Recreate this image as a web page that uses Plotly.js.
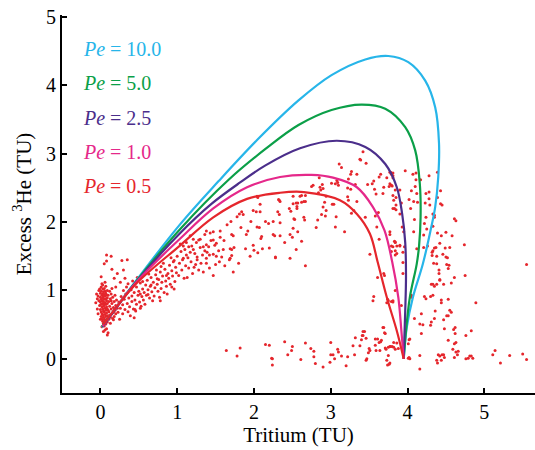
<!DOCTYPE html>
<html><head><meta charset="utf-8">
<script src="https://cdn.plot.ly/plotly-3.0.1.min.js"></script>
<style>html,body{margin:0;padding:0;background:#fff}#chart{width:535px;height:450px}</style>
</head><body><div id="chart"></div>
<script>
// ---- model curves (Tritium, Excess 3He) ----
const pe10X = [0.02,0.45,1.04,1.54,2.04,2.58,3.01,3.45,3.75,4.01,4.23,4.36,4.41,4.40,4.36,4.30,4.20,4.07,3.99,3.95];
const pe10Y = [0.46,1.12,1.97,2.60,3.20,3.78,4.15,4.38,4.43,4.34,4.07,3.68,3.15,2.66,2.22,1.88,1.39,0.90,0.46,0.0];
const pe5X = [0.02,0.45,1.04,1.67,2.15,2.58,3.01,3.40,3.71,3.97,4.10,4.16,4.17,4.15,4.12,4.03,3.98,3.95];
const pe5Y = [0.47,1.11,1.90,2.62,3.07,3.42,3.64,3.72,3.66,3.39,3.05,2.56,2.07,1.65,1.39,0.90,0.41,0.0];
const pe25X = [0.03,0.45,1.04,1.45,1.82,2.15,2.60,3.08,3.45,3.71,3.86,3.93,3.97,3.98,3.97,3.96,3.95];
const pe25Y = [0.47,1.10,1.84,2.27,2.58,2.83,3.08,3.19,3.10,2.85,2.51,2.12,1.70,1.20,0.70,0.35,0.0];
const pe1X = [0.03,0.45,1.04,1.47,1.91,2.34,2.75,3.03,3.34,3.55,3.70,3.80,3.88,3.92,3.95];
const pe1Y = [0.48,1.10,1.76,2.20,2.51,2.66,2.69,2.65,2.51,2.22,1.88,1.42,0.90,0.41,0.0];
const pe05X = [0.04,0.45,1.04,1.47,1.91,2.34,2.65,3.12,3.34,3.51,3.61,3.73,3.86,3.95];
const pe05Y = [0.50,1.08,1.66,2.07,2.34,2.43,2.44,2.32,2.12,1.83,1.42,0.90,0.41,0.0];
const peLabels = ["10.0","5.0","2.5","1.0","0.5"];
const peColors = ["#27b5e9","#0b9f48","#4b2e8b","#e5288a","#e5262c"];

// ---- observations [tritium, excess 3He] ----
const dotsCluster = [
[-0.05,0.95],[-0.04,0.88],[-0.03,0.92],[-0.02,1.00],[-0.02,0.85],[-0.01,0.78],[0.00,0.96],[0.00,0.90],[0.00,0.83],[0.00,0.72],
[0.01,1.05],[0.01,0.99],[0.01,0.87],[0.01,0.80],[0.01,0.69],[0.01,0.62],[0.02,0.93],[0.02,0.85],[0.02,0.76],[0.02,0.66],
[0.02,0.58],[0.03,1.08],[0.03,1.02],[0.03,0.95],[0.03,0.89],[0.03,0.81],[0.03,0.73],[0.03,0.64],[0.03,0.55],[0.04,0.98],
[0.04,0.91],[0.04,0.84],[0.04,0.77],[0.04,0.70],[0.04,0.61],[0.04,0.52],[0.05,1.03],[0.05,0.94],[0.05,0.87],[0.05,0.79],
[0.05,0.68],[0.05,0.58],[0.05,0.48],[0.06,0.99],[0.06,0.92],[0.06,0.82],[0.06,0.74],[0.06,0.65],[0.06,0.55],[0.07,1.06],
[0.07,0.96],[0.07,0.88],[0.07,0.80],[0.07,0.71],[0.07,0.62],[0.07,0.51],[0.08,0.93],[0.08,0.85],[0.08,0.76],[0.08,0.67],
[0.08,0.58],[0.08,0.44],[0.09,1.00],[0.09,0.89],[0.09,0.81],[0.09,0.73],[0.09,0.63],[0.09,0.54],
[0.10,0.93],[0.10,0.71],[0.11,0.84],[0.11,0.58],[0.12,0.99],[0.12,0.77],[0.12,0.64],[0.13,0.88],[0.13,0.52],[0.14,0.73],
[0.14,0.95],[0.15,0.66],[0.15,0.81],[0.16,0.59],[0.16,0.90],[0.17,0.75],[0.17,0.68],[0.18,0.84],[0.18,0.62],[0.19,0.71],
[0.20,0.78],[0.20,0.66],[0.21,0.86],[0.22,0.74],[0.13,0.61],[0.11,0.69],[0.15,1.03],[0.19,0.93],[0.14,0.85],[0.17,0.57],
[-0.06,0.82],[-0.04,0.73],[-0.03,0.66],[0.00,0.58],[0.02,0.47],[0.06,0.42],[0.09,0.35],[0.04,0.40],[-0.01,1.02],[0.02,1.10],
[0.06,1.12],[0.10,0.38],
[0.08,1.52],[0.14,1.50],[0.05,1.39],[0.08,1.43],[0.15,1.31],[0.28,1.44],[0.01,1.20],[0.18,1.18],[0.22,1.25],[0.30,1.30],
[0.35,1.45],[0.20,1.05],[0.26,1.12],[0.32,1.18]
];
const dotsBandLow = [
[0.23,0.68],[0.24,0.83],[0.26,0.74],[0.27,0.91],[0.29,0.66],[0.29,0.79],[0.31,0.87],[0.32,0.72],[0.33,0.95],[0.35,0.81],
[0.36,0.69],[0.37,0.89],[0.38,0.76],[0.40,1.01],[0.41,0.84],[0.41,0.92],[0.43,0.73],[0.44,0.97],[0.45,0.86],[0.47,1.05],
[0.47,0.80],[0.49,0.93],[0.50,0.99],[0.51,0.83],[0.52,1.11],[0.54,0.91],[0.55,1.02],[0.56,0.86],[0.57,0.97],[0.59,1.08],
[0.60,0.93],[0.61,1.15],[0.62,1.01],[0.64,0.89],[0.65,1.06],[0.66,1.19],[0.67,0.98],[0.69,1.12],[0.70,0.92],[0.71,1.04],
[0.72,1.23],[0.74,1.09],[0.75,0.99],[0.76,1.16],[0.78,1.27],[0.79,1.03],[0.80,1.12],[0.81,1.21],[0.83,0.97],[0.84,1.31],
[0.85,1.14],[0.86,1.06],[0.88,1.25],[0.89,1.18],[0.90,1.37],[0.91,1.09],[0.93,1.29],[0.94,1.21],[0.95,1.42],[0.97,1.13],
[0.98,1.34],[0.99,1.26],[0.34,1.05],[0.39,0.63],[0.46,0.70],[0.53,0.77],[0.58,0.80],[0.63,1.24],[0.68,0.85],[0.73,1.30],
[0.77,0.90],[0.82,1.40],[0.87,0.95],[0.92,1.48],[0.96,1.02],[0.42,1.14],[0.48,1.19],[0.57,1.27],[0.44,0.60],[0.25,0.58],
[0.30,1.00],[0.36,1.10],[0.52,0.95],[0.62,0.94],[0.74,1.17],[0.86,1.22],[0.55,1.13],[0.66,1.08],[0.79,1.35],[0.93,1.05],
[0.45,0.72],[0.52,0.74],[0.78,0.85]
];
const dotsBandMid = [
[2.04,2.38],[2.05,2.36],[2.08,2.26],[2.08,2.15],[2.32,2.33],[2.34,2.30],[2.31,2.15],[2.33,2.11],[2.46,2.20],[2.48,2.16],
[2.51,2.27],[2.55,2.28],[2.53,2.04],[2.34,1.99],[2.25,2.01],[1.99,2.17],[2.03,2.15],[1.81,2.12],[1.84,2.15],[1.78,2.08],
[1.86,2.11],[1.96,2.01],[2.15,2.01],[2.19,1.98],[2.04,1.93],[2.07,1.92],[1.92,1.87],[1.83,1.92],[1.65,1.96],[1.70,2.01],
[1.56,1.87],[1.71,1.82],[1.73,1.80],[1.90,1.82],[2.09,1.76],[2.10,1.79],[2.25,1.82],[2.27,1.80],[2.34,1.80],[2.47,1.82],
[2.50,1.78],[1.47,1.86],[1.43,1.84],[1.38,1.87],[1.36,1.82],[1.30,1.75],[1.28,1.74],[1.21,1.75],[1.25,1.70],[1.17,1.80],
[1.12,1.70],[1.04,1.68],[1.08,1.65],[1.19,1.65],[1.21,1.60],[1.30,1.63],[1.34,1.64],[1.38,1.67],[1.41,1.64],[1.44,1.73],
[1.47,1.74],[1.49,1.66],[1.51,1.69],[1.36,1.58],[1.39,1.56],[1.42,1.52],[1.47,1.53],[1.51,1.50],[1.54,1.58],[1.60,1.60],
[1.61,1.73],[1.56,1.78],[1.69,1.61],[1.71,1.60],[1.74,1.63],[1.12,1.52],[1.17,1.56],[1.23,1.54],[1.08,1.47],[1.26,1.49],
[1.38,1.47],[1.69,1.47],[1.58,1.49],[1.99,1.66],[2.11,1.61],[2.00,1.59],[2.28,1.48],[2.47,1.47],[1.71,1.51],
[1.02,1.22],[1.06,1.30],[1.09,1.18],[1.13,1.19],[1.15,1.33],[1.20,1.25],[1.24,1.38],[1.28,1.30],[1.34,1.27],[1.38,1.40],
[1.42,1.33],[1.47,1.22],[1.50,1.38],[1.55,1.42],[1.62,1.36],[1.73,1.27],[1.68,1.45],[1.80,1.40],[1.89,1.61],[1.95,1.50],
[2.05,1.55],[2.20,1.62],[2.40,1.70],[2.67,1.36],[2.55,1.60],[2.62,1.72],[1.03,1.40],[1.07,1.45],[1.11,1.36],[1.14,1.48],
[1.18,1.42],[1.22,1.34],[1.26,1.45],[1.31,1.40],[1.33,1.52],[1.10,1.60],[1.15,1.64],[1.05,1.57],[1.00,1.50],[0.96,1.44]
];
const dotsUpper = [
[3.42,3.03],[3.11,2.85],[3.14,2.80],[3.38,2.92],[3.46,2.86],[3.27,2.74],[3.26,2.70],[3.34,2.70],[2.85,2.65],[3.23,2.63],
[3.09,2.58],[3.06,2.56],[2.89,2.55],[2.77,2.54],[3.32,2.55],[3.48,2.55],[3.54,2.56],[3.56,2.60],[3.57,2.48],[3.65,2.70],
[3.63,2.66],[3.73,2.65],[3.78,2.73],[3.79,2.70],[3.81,2.65],[3.80,2.53],[3.76,2.52],[3.69,2.51],[3.68,2.42],[3.59,2.41],
[2.90,2.49],[2.87,2.47],[3.22,2.50],[3.26,2.48],[2.67,2.39],[2.62,2.39],[2.60,2.38],[2.51,2.38],[2.67,2.30],[2.65,2.30],
[2.57,2.28],[2.56,2.23],[2.94,2.38],[3.22,2.37],[3.23,2.32],[2.92,2.29],[3.02,2.26],[3.04,2.26],[3.34,2.30],[3.83,2.20],
[3.85,2.18],[3.62,2.14],[3.58,2.09],[3.27,2.13],[3.30,2.17],[2.90,2.22],[2.94,2.17],[2.88,2.11],[2.93,2.09],[2.65,2.07],
[2.66,2.03],[2.52,2.05],[2.51,1.91],[2.83,2.03],[3.07,2.08],[3.45,2.07],[2.57,1.86],[2.81,1.92],[3.06,1.93],[3.60,1.93],
[3.77,1.86],[3.18,1.86],[3.63,1.75],[3.51,1.53],[3.84,1.70],[3.79,1.65],[3.79,1.57],[3.84,1.52],
[3.39,2.91],[2.75,2.52],[2.86,2.51],[2.84,2.43],[3.01,2.57],[3.08,2.61],[3.10,2.54],[2.33,2.32],[2.62,2.29],[2.56,2.20],
[3.77,2.73],[3.81,2.72],[3.81,2.68],[3.97,2.75],[4.07,2.70],[4.11,2.72],[4.28,2.68],[4.39,2.73],[4.17,2.62],[4.11,2.62],
[3.77,2.56],[3.79,2.54],[3.84,2.47],[3.90,2.47],[4.10,2.52],[4.05,2.46],[4.12,2.42],[4.24,2.42],[4.28,2.44],[4.43,2.46],
[3.81,2.39],[3.85,2.36],[3.82,2.32],[4.02,2.33],[3.92,2.28],[4.08,2.30],[4.13,2.29],[4.23,2.28],[4.28,2.34],[4.39,2.36],
[4.43,2.27],[4.45,2.25],[3.81,2.20],[3.85,2.25],[4.04,2.20],[4.29,2.25],[4.33,2.12],[4.35,2.10],[4.35,2.07],[3.90,2.12],
[4.09,2.04],[4.24,2.07],[4.22,1.98],[4.61,2.05],[4.63,2.02],[3.93,1.93],[4.25,1.90],[4.33,1.94],[3.95,1.86],[4.08,1.86],
[4.21,1.81],[4.39,1.84],[4.44,1.80],[4.50,1.85],[4.58,1.80],[3.77,1.82],[3.83,1.72],[4.42,1.69],[4.74,1.67],[3.96,1.64],
[3.90,1.65],[3.81,1.64],[3.86,1.65],[4.21,1.63],[4.26,1.65],[4.35,1.62],[4.37,1.63],[4.49,1.62],[4.55,1.63],[4.33,1.58],
[3.84,1.58],[3.94,1.56],[4.32,1.56],[4.46,1.53],[4.12,1.61],[4.32,1.51],[4.38,1.50],[4.50,1.49],[4.52,1.48],
[3.94,1.41],[3.94,1.25],[4.05,0.93],[4.06,0.91],[3.84,1.00],[3.92,0.78],[3.81,0.83],[4.09,0.59],[4.18,0.66],[4.35,0.59],
[4.51,0.63],[4.53,0.63],[4.57,0.68],[4.55,0.71],[4.36,0.70],[4.44,0.82],[4.44,0.86],[4.53,0.87],[4.89,0.82],[4.22,0.91],
[4.24,0.88],[4.30,0.91],[4.33,0.93],[4.31,1.09],[4.33,1.09],[4.35,1.06],[4.38,1.09],[4.42,1.16],[4.47,1.09],[4.57,1.11],
[4.61,1.19],[4.75,1.22],[4.41,1.30],[4.41,1.25],[4.38,1.39],[4.34,1.40],[4.51,1.38],[4.54,1.37],[4.53,1.32],[5.55,1.38],
[4.20,0.50],[4.18,0.37],[4.30,0.49],[4.48,0.44],[4.60,0.43],[4.62,0.46],[4.62,0.37],[4.83,0.41],[4.76,0.34],
[3.56,0.91],[3.55,0.85],[3.70,1.22],[3.69,1.25],[3.74,0.87],[3.81,0.85],[4.16,0.51],[4.31,0.54],[4.47,0.57],[4.05,0.90],
[3.90,1.66],[3.86,1.54],[3.84,1.71],[4.42,1.15],[3.61,1.19],[3.68,0.46],[3.71,0.37],[3.44,0.40],[3.41,0.34],
[3.73,0.82],[3.75,0.85],[3.79,0.84],[2.28,1.49]
];
const dotsBottom = [
[1.64,0.12],[1.78,0.04],[1.82,0.16],[2.20,0.20],[2.24,0.00],[2.24,-0.09],[2.40,0.25],[2.50,0.18],[2.49,0.12],[2.44,0.06],
[2.61,-0.01],[2.67,0.23],[2.74,0.15],[2.78,0.11],[2.78,0.03],[2.80,-0.07],[2.90,-0.12],[3.00,0.24],[3.00,0.06],[3.03,0.06],
[2.99,-0.05],[3.05,0.00],[3.09,0.14],[3.10,0.10],[3.14,0.04],[3.20,-0.10],[3.22,0.03],[3.29,0.19],[3.32,0.31],[3.31,0.06],
[3.38,0.19],[3.40,0.28],[3.42,0.34],[3.42,0.40],[3.46,0.30],[3.46,-0.02],[3.50,0.15],[3.51,0.12],[3.49,0.09],[3.58,0.20],
[3.59,0.12],[3.61,0.29],[3.63,0.24],[3.64,0.12],[3.65,0.25],[3.69,0.46],[3.70,0.38],[3.72,0.14],[3.73,-0.02],[3.74,-0.09],
[3.76,-0.08],[3.75,0.05],[3.75,0.17],[3.77,0.18],[3.78,0.18],[3.82,0.24],[3.84,0.14],[3.80,0.18],[3.88,0.15],[3.86,0.23],
[3.77,-0.06],[4.01,0.01],[4.02,0.02],[4.02,0.28],[4.03,0.29],[4.01,0.22],[4.16,0.05],[4.16,-0.15],[4.38,-0.02],[4.39,-0.06],
[4.40,0.06],[4.42,0.04],[4.44,-0.02],[4.45,0.06],[4.48,0.02],[4.47,0.06],[4.59,0.14],[4.61,0.02],[4.63,0.10],[4.65,0.06],
[4.66,0.11],[4.76,0.00],[4.79,0.01],[4.81,0.04],[4.83,0.04],[4.85,0.01],[4.53,0.27],[4.61,0.22],[4.63,0.24],[5.50,0.07],
[5.55,-0.01],[5.33,0.05],[5.21,-0.06],[5.14,0.12],[5.11,0.06],[2.15,0.21],[2.23,0.01],[3.58,0.29],[3.66,0.27],[3.71,0.16],
[3.82,0.17],[3.47,0.00],[4.03,0.00]
];

const allDots = dotsCluster.concat(dotsBandLow, dotsBandMid, dotsUpper, dotsBottom);
const serif = "'Liberation Serif', 'Times New Roman', serif";

const traces = [{
  type: "scatter", mode: "markers",
  x: allDots.map(d => d[0]), y: allDots.map(d => d[1]),
  marker: {size: 3, color: "#e5262c"}, hoverinfo: "skip"
}];
const curves = [[pe10X,pe10Y],[pe5X,pe5Y],[pe25X,pe25Y],[pe1X,pe1Y],[pe05X,pe05Y]];
curves.forEach((c, i) => traces.push({
  type: "scatter", mode: "lines", x: c[0], y: c[1],
  line: {color: peColors[i], width: 2.2, shape: "spline", smoothing: 1}
}));

const annotations = peLabels.map((lab, i) => ({
  xref: "paper", yref: "paper", x: 0.04, y: 0.91 - i * 0.0907,
  xanchor: "left", yanchor: "middle", showarrow: false,
  text: "<i>Pe</i> = " + lab,
  font: {family: serif, size: 20, color: peColors[i]}
}));

const axisCommon = {
  showgrid: false, zeroline: false, showline: true, linecolor: "#000", linewidth: 2,
  ticks: "inside", ticklen: 5, tickwidth: 2, tickcolor: "#000",
  tickfont: {family: serif, size: 20, color: "#000"}, tickvals: [0,1,2,3,4,5]
};

const layout = {
  width: 535, height: 450, showlegend: false,
  paper_bgcolor: "#fff", plot_bgcolor: "#fff",
  margin: {l: 62, r: 0, t: 15, b: 57},
  xaxis: Object.assign({}, axisCommon, {range: [-0.5, 5.66],
    title: {text: "Tritium (TU)", font: {family: serif, size: 21, color: "#000"}, standoff: 5}}),
  yaxis: Object.assign({}, axisCommon, {range: [-0.5, 5.03],
    title: {text: "Excess <sup>3</sup>He (TU)", font: {family: serif, size: 21, color: "#000"}, standoff: 9}}),
  annotations: annotations
};

Plotly.newPlot("chart", traces, layout, {displayModeBar: false, staticPlot: true});
</script>
</body></html>
